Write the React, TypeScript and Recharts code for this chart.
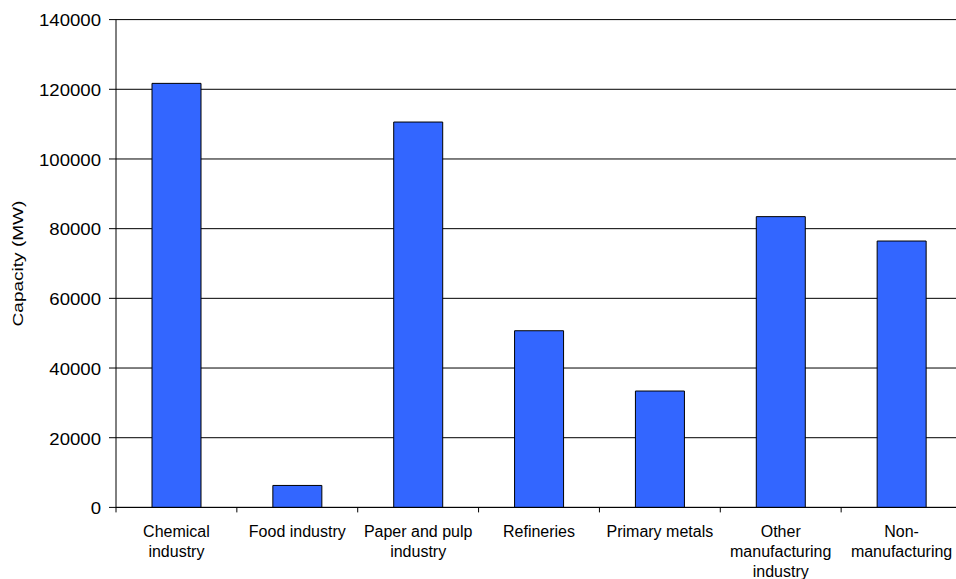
import React from "react";
import { BarChart, Bar, XAxis, YAxis, CartesianGrid } from "recharts";

// Installed cogeneration capacity by sector
const categories = [
  "Chemical industry",
  "Food industry",
  "Paper and pulp industry",
  "Refineries",
  "Primary metals",
  "Other manufacturing industry",
  "Non-manufacturing",
];
const capacityMW = [121700, 6300, 110600, 50700, 33400, 83450, 76450];
const tickLabelLines = [
  ["Chemical", "industry"],
  ["Food industry"],
  ["Paper and pulp", "industry"],
  ["Refineries"],
  ["Primary metals"],
  ["Other", "manufacturing", "industry"],
  ["Non-", "manufacturing"],
];
const yTicks = [0, 20000, 40000, 60000, 80000, 100000, 120000, 140000];
const yAxisTitle = "Capacity (MW)";

const data = categories.map((name, i) => ({ name, value: capacityMW[i] }));

const FONT = "'Liberation Sans', Arial, sans-serif";
const CHART_W = 966;
const CHART_H = 579;
const MARGIN = { top: 19.6, right: 4, bottom: 0, left: 0 };
const Y_AXIS_W = 116;
const X_AXIS_H = 71.6;
const PLOT_W = CHART_W - MARGIN.left - MARGIN.right - Y_AXIS_W;
const STEP = PLOT_W / categories.length;

function CategoryTick(props: any) {
  const { x, y, index } = props;
  const lines = tickLabelLines[index] || [];
  const left = x - STEP / 2;
  const right = x + STEP / 2;
  return (
    <g>
      <line x1={left} y1={y} x2={left} y2={y + 5} stroke="#000" strokeWidth={1} />
      {index === categories.length - 1 && (
        <line x1={right} y1={y} x2={right} y2={y + 5} stroke="#000" strokeWidth={1} />
      )}
      <text x={x} y={y} textAnchor="middle" fontFamily={FONT} fontSize={16} fill="#000">
        {lines.map((ln, i) => (
          <tspan key={i} x={x} dy={i === 0 ? 29.5 : 19.8}>
            {ln}
          </tspan>
        ))}
      </text>
    </g>
  );
}

function ValueTick(props: any) {
  const { x, y, payload } = props;
  return (
    <text
      transform={`translate(${x},${y + 1}) scale(1.14,1)`}
      textAnchor="end"
      dy="0.355em"
      fontFamily={FONT}
      fontSize={16.3}
      fill="#000"
    >
      {payload.value}
    </text>
  );
}

function AxisTitle(props: any) {
  const vb = props.viewBox || { x: 0, y: 0, width: 0, height: 0 };
  const cy = vb.y + vb.height / 2;
  return (
    <text
      transform={`translate(${vb.x + 23.4},${cy}) rotate(-90) scale(1.27,1)`}
      textAnchor="middle"
      fontFamily={FONT}
      fontSize={15}
      fill="#000"
    >
      {yAxisTitle}
    </text>
  );
}

export default function App() {
  return (
    <div
      style={{
        position: "absolute",
        left: 0,
        top: 0,
        width: 956,
        height: 579,
        overflow: "hidden",
        background: "#fff",
      }}
    >
      <BarChart width={CHART_W} height={CHART_H} data={data} margin={MARGIN}>
        <CartesianGrid vertical={false} stroke="#000" strokeWidth={1} />
        <XAxis
          dataKey="name"
          interval={0}
          height={X_AXIS_H}
          axisLine={{ stroke: "#000", strokeWidth: 1 }}
          tickLine={false}
          tickSize={0}
          tickMargin={0}
          tick={<CategoryTick />}
        />
        <YAxis
          width={Y_AXIS_W}
          domain={[0, 140000]}
          ticks={yTicks}
          interval={0}
          axisLine={{ stroke: "#000", strokeWidth: 1 }}
          tickLine={{ stroke: "#000", strokeWidth: 1 }}
          tickSize={7}
          tickMargin={8}
          tick={<ValueTick />}
          label={<AxisTitle />}
        />
        <Bar
          dataKey="value"
          fill="#3366FF"
          stroke="#000"
          strokeWidth={1}
          barSize={49}
          isAnimationActive={false}
        />
      </BarChart>
    </div>
  );
}
